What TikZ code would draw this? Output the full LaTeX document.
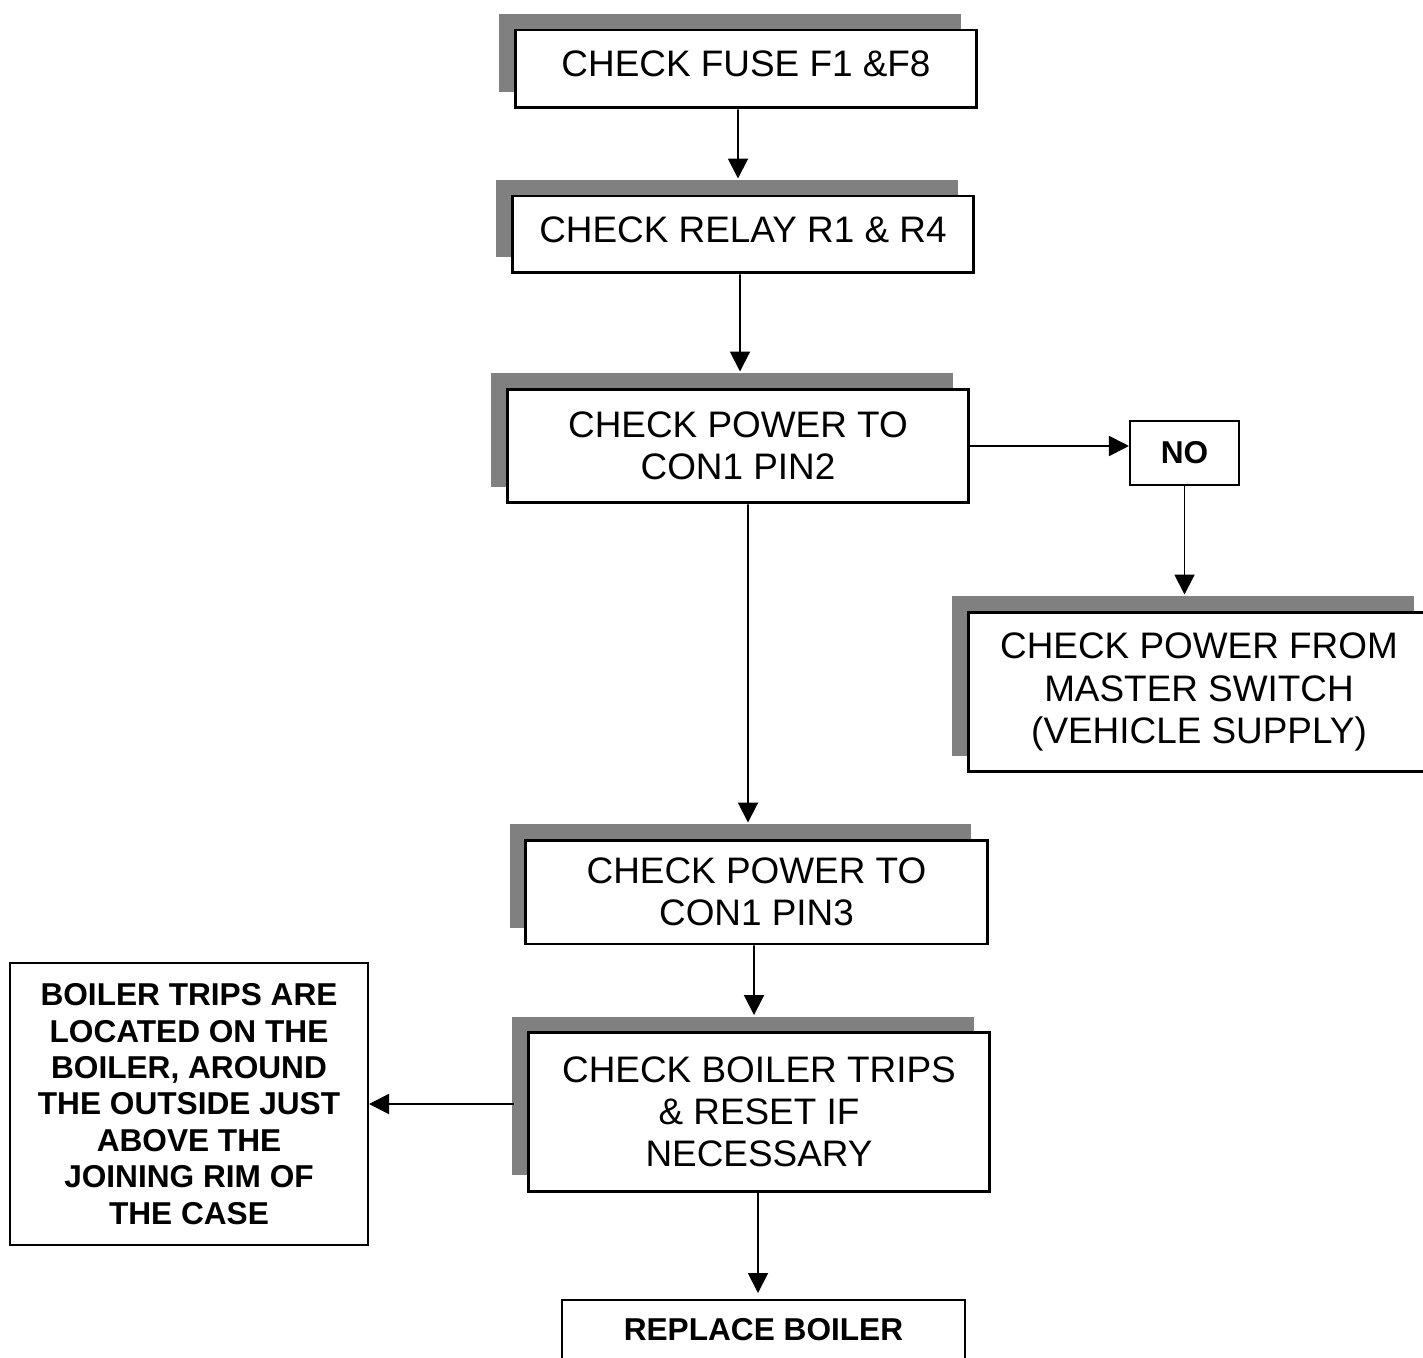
\documentclass[tikz,border=0pt]{standalone}
\usepackage{fontspec}
\setmainfont{Liberation Sans}
\usetikzlibrary{arrows.meta, positioning, shadows}
\tikzset{
  stepbox/.style={draw, line width=1.7pt, fill=white, inner sep=0pt,
    align=center, minimum width=9.24cm, font=\fontsize{21}{24}\selectfont,
    general shadow={fill=gray, shadow xshift=-0.32cm, shadow yshift=0.32cm}},
  notebox/.style={draw, line width=1.2pt, fill=white, inner sep=0pt,
    align=center, font=\fontsize{18}{20.7}\selectfont\bfseries},
  arr/.style={-{Triangle[length=0.4cm, width=0.4cm]}, line width=1.1pt},
}

\begin{document}
\begin{tikzpicture}[x=0.02cm, y=-0.02cm]
  \useasboundingbox (0,0) rectangle (1423,1358);

  % --- Nodes ---
  \node[stepbox, minimum height=1.56cm, text depth=0.2cm] (fuse) at (746,69) {CHECK FUSE F1 \&F8};
  \node[stepbox, minimum height=1.54cm, text depth=0.2cm] (relay) at (743,234.5) {CHECK RELAY R1 \& R4};
  \node[stepbox, minimum height=2.28cm] (pin2) at (738,446) {CHECK POWER TO\\CON1 PIN2};
  \node[notebox, minimum width=2.18cm, minimum height=1.28cm] (no) at (1184.5,453) {NO};
  \node[stepbox, minimum height=3.2cm] (master) at (1199,692)
    {CHECK POWER FROM\\MASTER SWITCH\\(VEHICLE SUPPLY)};
  \node[stepbox, minimum height=2.08cm] (pin3) at (756.5,892) {CHECK POWER TO\\CON1 PIN3};
  \node[stepbox, minimum height=3.18cm] (trips) at (759,1112) 
    {CHECK BOILER TRIPS\\\& RESET IF\\NECESSARY};
  \node[notebox, minimum width=7.16cm, minimum height=5.64cm] (loc) at (189,1104)
    {BOILER TRIPS ARE\\LOCATED ON THE\\BOILER, AROUND\\THE OUTSIDE JUST\\ABOVE THE\\JOINING RIM OF\\THE CASE};
  \node[notebox, line width=1.1pt, minimum width=8.06cm, text height=0.82cm,
    text depth=1.2cm, anchor=north] (replace) at (763.5,1299) {REPLACE BOILER};

  % --- Arrows ---
  \path[arr]
  ([xshift=-0.16cm]fuse.south) edge[shorten >=0.32cm] ([xshift=-0.1cm]relay.north)
  ([xshift=-0.06cm]relay.south) edge[shorten >=0.32cm] ([xshift=0.04cm]pin2.north)
  (pin2.east) edge (pin2.east -| no.west)
  (no.south) edge[shorten >=0.32cm] (no.south |- master.north)
  ([xshift=0.2cm]pin2.south) edge[shorten >=0.32cm] ([xshift=-0.17cm]pin3.north)
  ([xshift=-0.05cm]pin3.south) edge[shorten >=0.32cm] ([xshift=-0.1cm]trips.north)
  (loc.east -| trips.west) edge[shorten <=0.26cm] (loc.east) % to the note
  ([xshift=-0.02cm]trips.south) edge[shorten >=0.12cm] ([xshift=-0.11cm]replace.north);

\end{tikzpicture}
\end{document}
